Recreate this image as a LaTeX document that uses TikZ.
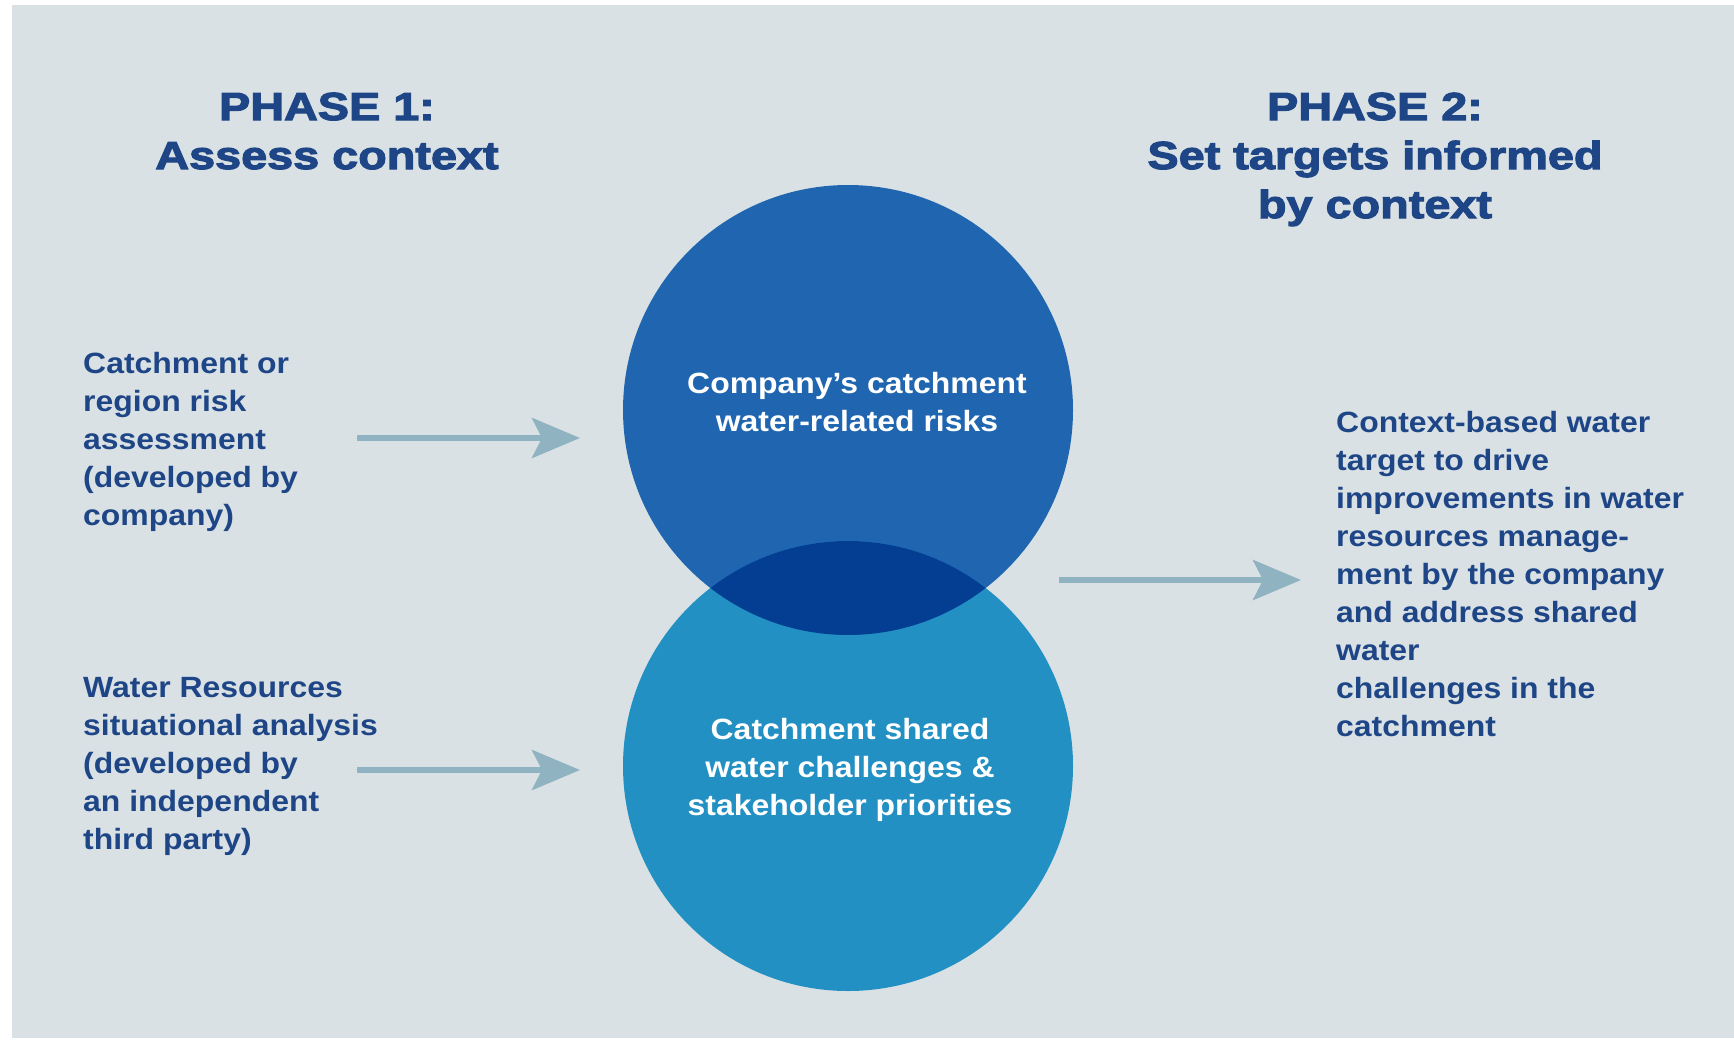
\documentclass[tikz,border=0pt]{standalone}
\usepackage{fontspec}
\setmainfont{Liberation Sans}
\newfontfamily\bodyfont{Liberation Sans}[BoldFeatures={FakeStretch=1.09}]
\newfontfamily\headfont{Liberation Sans}[BoldFeatures={FakeStretch=1.2,FakeBold=3}]
\usetikzlibrary{arrows.meta}
\definecolor{bg}{HTML}{D9E1E4}
\definecolor{txt}{HTML}{1E4687}
\definecolor{topc}{HTML}{1F65B0}
\definecolor{botc}{HTML}{2290C3}
\definecolor{ovl}{HTML}{043E93}
\definecolor{arrcol}{HTML}{8FB3C1}
\begin{document}
\begin{tikzpicture}[x=1pt,y=-1pt,
  body/.style={font=\bodyfont\bfseries\fontsize{29.3}{38}\selectfont, text=txt, inner sep=0pt, align=left},
  head/.style={font=\headfont\bfseries\fontsize{39}{49}\selectfont, text=txt, inner sep=0pt, align=center},
  intext/.style={font=\bodyfont\bfseries\fontsize{29.3}{38}\selectfont, text=white, inner sep=0pt, align=center},
  disc/.style={circle, inner sep=0pt, minimum size=450pt},
  arr/.style={draw=arrcol, line width=6pt, -{Stealth[length=48pt,width=40pt,inset=10pt]}}]
\useasboundingbox (0,0) rectangle (1734,1041);
\fill[white] (0,0) rectangle (1734,1041);
\fill[bg] (12,5) rectangle (1734,1038);
% circles
\node[disc, fill=topc] (ctop) at (848,410) {};
\node[disc, fill=botc] (cbot) at (848,766) {};
\begin{scope}
  \clip (848,410) circle[radius=225pt];
  \fill[ovl] (848,766) circle[radius=225pt];
\end{scope}
% headings (anchor = baseline of last line)
\node[head, anchor=base] (h1) at (327,169) {PHASE 1:\\Assess context};
\node[head, anchor=base] (h2) at (1375,218) {PHASE 2:\\Set targets informed\\by context};
% side texts
\node[body, anchor=base west] (t1) at (83,525) {Catchment or\\region risk\\assessment\\(developed by\\company)};
\node[body, anchor=base west] (t2) at (83,849) {Water Resources\\situational analysis\\(developed by\\an independent\\third party)};
\node[body, anchor=base west] (t3) at (1336,736) {Context-based water\\target to drive\\improvements in water\\resources manage-\\ment by the company\\and address shared\\water\\challenges in the\\catchment};
% circle texts
\node[intext, anchor=base] (ct1) at (857,431) {Company’s catchment\\water-related risks};
\node[intext, anchor=base] (ct2) at (850,815) {Catchment shared\\water challenges \&\\stakeholder priorities};
% arrows
\coordinate (a1s) at (357,438);
\coordinate (a1e) at (580,438);
\coordinate (a2s) at (357,770);
\coordinate (a2e) at (580,770);
\coordinate (a3s) at (1059,580);
\coordinate (a3e) at (1301,580);
\draw[arr] (a1s) -- (a1e);
\draw[arr] (a2s) -- (a2e);
\draw[arr] (a3s) -- (a3e);
\end{tikzpicture}
\end{document}
